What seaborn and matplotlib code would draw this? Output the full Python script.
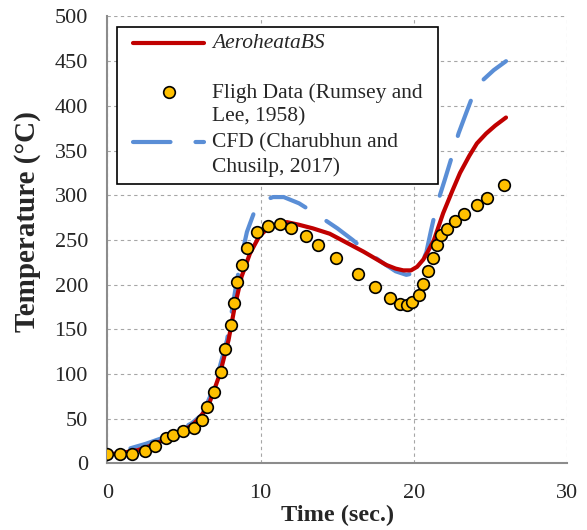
import numpy as np
import matplotlib
matplotlib.use('Agg')
import matplotlib.pyplot as plt
import seaborn as sns
from matplotlib.collections import PathCollection
from matplotlib.lines import Line2D
from matplotlib.legend_handler import HandlerLine2D, HandlerPathCollection

# AeroheataBS prediction
aero_t = [0, 1, 2, 3, 4, 5, 5.6, 6.0, 6.4, 6.7, 7.0, 7.35, 7.6, 7.9, 8.3, 8.75, 9.3, 9.9,
          10.4, 10.9, 11.7, 12.5, 13.4, 14.5, 15.6, 16.7, 17.5, 18.2, 18.8, 19.3, 19.8,
          20.2, 20.6, 20.9, 21.3, 21.9, 22.5, 23.0, 23.6, 24.1, 24.7, 25.3, 26.0]
aero_temp = [10, 12, 15, 21, 29, 37, 44, 51, 60, 70, 84, 101, 118, 138, 175, 209, 235, 254,
             262, 266, 270, 267, 263, 257, 247, 237, 229, 222, 218, 216, 216,
             220, 228, 237, 250, 280, 305, 325, 344, 358, 369, 378, 387]

# flight data (Rumsey and Lee, 1958)
flight_t = [0.0, 0.82, 1.62, 2.45, 3.1, 3.8, 4.26, 4.95, 5.67, 6.15, 6.52, 6.93, 7.39, 7.69,
            8.06, 8.24, 8.47, 8.76, 9.09, 9.78, 10.5, 11.26, 11.96, 12.94, 13.72, 14.93,
            16.35, 17.46, 18.43, 19.08, 19.52, 19.89, 20.33, 20.61, 20.93, 21.22, 21.52,
            21.74, 22.13, 22.67, 23.28, 24.13, 24.74, 25.87]
flight_temp = [11, 11, 11, 14, 20, 29, 32, 36, 40, 49, 63, 80, 102, 128,
               155, 180, 203, 222, 241, 259, 266, 268, 263, 254, 244, 230,
               212, 197, 185, 178, 177, 181, 188, 201, 215, 230, 244,
               256, 262, 271, 279, 289, 297, 312]

# CFD (Charubhun and Chusilp, 2017)
cfd_t = [1.5, 2.5, 3.5, 4.5, 5.5, 6.2, 6.7, 7.2, 7.8, 8.4, 8.7, 9.1, 9.7, 10.2, 10.8, 11.5,
         12.5, 13.7, 15.0, 16.0, 16.9, 18.0, 18.8, 19.5, 20.0, 20.4, 20.8, 21.1, 21.5, 22.0,
         22.5, 22.9, 23.4, 23.8, 24.5, 25.2, 26.0]
cfd_temp = [17, 22, 28, 36, 45, 55, 75, 100, 138, 200, 228, 259, 287, 294, 298, 298,
            291, 278, 263, 250, 237, 224, 215, 211, 213, 220, 236, 260, 290, 317,
            345, 369, 392, 410, 429, 440, 450]

labels = ['AeroheataBS\n ', 'Fligh Data (Rumsey and\nLee, 1958)', 'CFD (Charubhun and\nChusilp, 2017)']

sns.set_style('white')
plt.rcParams['font.family'] = ['Liberation Serif', 'DejaVu Serif']

LEG_SHIFT = 0.57  # handle offset up, in font sizes
LEG_XPAD = 0.42   # empty space left of the handle, in font sizes


class FirstLineHandler(HandlerLine2D):
    # keep the handle level with the first line of the label, like Excel does
    def create_artists(self, legend, orig_handle, xdescent, ydescent, width, height, fontsize, trans):
        arts = super().create_artists(legend, orig_handle, xdescent, ydescent, width, height, fontsize, trans)
        for a in arts:
            a.set_ydata(np.asarray(a.get_ydata()) + LEG_SHIFT * fontsize)
        return arts


fig = plt.figure(figsize=(5.87, 5.30), dpi=100)
ax = fig.add_axes([0.183, 0.1255, 0.7835, 0.8434])

sns.lineplot(x=aero_t, y=aero_temp, color='#C00000', lw=3, ax=ax, label=labels[0], zorder=3)
sns.lineplot(x=cfd_t, y=cfd_temp, color='#5A8ED6', lw=3, ax=ax, label=labels[2], zorder=2)
ax.lines[1].set_dashes((9, 6))
for ln in ax.lines:
    ln.set_dash_capstyle('round')
    ln.set_solid_capstyle('round')
sns.scatterplot(x=flight_t, y=flight_temp, color='#FFC000', edgecolor='black', linewidth=1.2,
                s=70, ax=ax, label=labels[1], zorder=4)

ax.set_xlim(0, 30)
ax.set_ylim(0, 500)
ax.set_xticks([0, 10, 20, 30])
ax.set_yticks(np.arange(0, 501, 50))
ax.grid(True, color='#A6A6A6', linestyle=(0, (3, 3)), linewidth=0.8)
for s in ['top', 'right']:
    ax.spines[s].set_visible(False)
for s in ['left', 'bottom']:
    ax.spines[s].set_color('#8C8C8C')
    ax.spines[s].set_linewidth(1.5)
ax.tick_params(axis='x', length=0, pad=15, labelsize=16)
ax.tick_params(axis='y', length=0, pad=14, labelsize=16)

ax.set_xlabel('Time (sec.)', fontsize=17.5, fontweight='bold', labelpad=1)
ax.set_ylabel('Temperature (°C)', fontsize=21, fontweight='bold')
ax.yaxis.set_label_coords(-0.145, 0.541)

h, l = ax.get_legend_handles_labels()
order = [l.index(x) for x in labels]
fs = 15.5
leg = ax.legend([h[i] for i in order], [l[i] for i in order],
                loc='upper left', bbox_to_anchor=(0.0202, 0.5, 0.6993, 0.4772),
                mode='expand', borderaxespad=0, borderpad=0.35, labelspacing=0.29,
                handlelength=3.3 + LEG_XPAD, handletextpad=0.35, fontsize=fs, fancybox=False,
                framealpha=1, edgecolor='black',
                handler_map={Line2D: FirstLineHandler(xpad=LEG_XPAD),
                             PathCollection: HandlerPathCollection(xpad=LEG_XPAD,
                                                                   yoffsets=[0.5 + LEG_SHIFT / 0.7])})
leg.get_frame().set_linewidth(1.2)
leg.get_texts()[0].set_fontstyle('italic')
for t in leg.get_texts():
    t.set_linespacing(1.33)

fig.savefig('out.png', dpi=100)
